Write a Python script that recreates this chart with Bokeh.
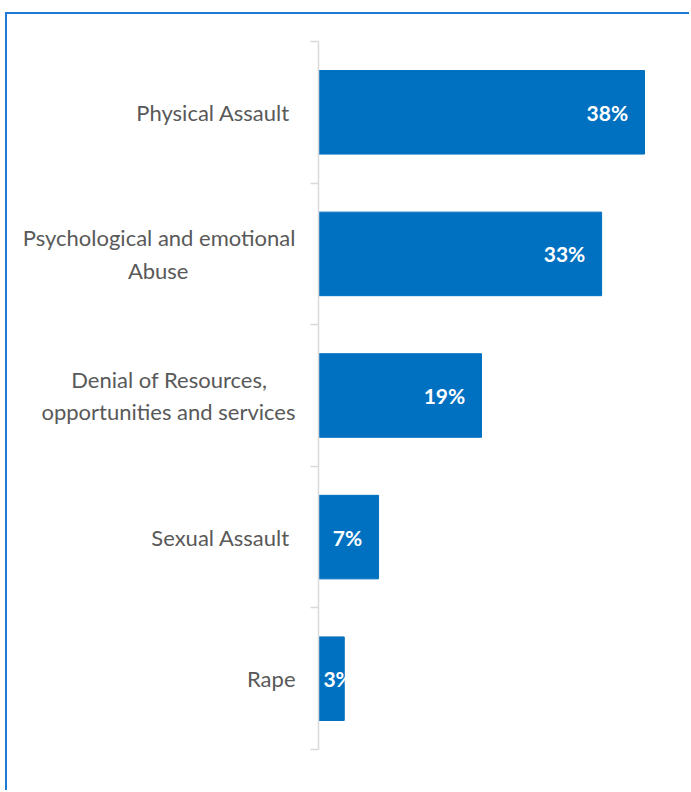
from bokeh.plotting import figure
from bokeh.models import FixedTicker, ColumnDataSource, Range1d
from bokeh.embed import file_html
from bokeh.resources import INLINE
from bokeh.core.properties import value

NB = "\u00a0"
categories = [
    "Physical Assault" + NB,
    "Psychological and emotional\nAbuse" + NB * 19,
    "Denial of Resources," + NB * 5 + "\nopportunities and services",
    "Sexual Assault" + NB,
    "Rape",
]
values = [38, 33, 19, 7, 3]
value_labels = ["38%", "33%", "19%", "7%", "3%"]

n = len(categories)
ypos = [n - i - 0.5 for i in range(n)]
# data-label anchor: inside end of bar, clamped near bar start for short bars
label_x = [max(v - 1.9, 4.0) for v in values]

src = ColumnDataSource(dict(y=ypos, v=values, lab=value_labels, lx=label_x))

p = figure(width=684, height=778, output_backend="svg", toolbar_location=None,
           x_range=Range1d(0, 43.48), y_range=Range1d(0, n),
           min_border_left=311, min_border_right=0, min_border_top=27,
           min_border_bottom=43)
p.styles = {"border-left": "2px solid #1F7AD6", "border-top": "2px solid #1F7AD6",
            "margin-top": "12px", "margin-left": "5px"}

p.hbar(y="y", left=0, right="v", height=0.59, source=src,
       fill_color="#0070C0", line_color="#0070C0")
p.text(x="lx", y="y", text="lab", source=src, text_align="right",
       text_baseline="middle", text_color="white", text_font=value("Lato"),
       text_font_style="bold", text_font_size="21px")

p.xaxis.visible = False
p.xgrid.visible = False
p.ygrid.visible = False
p.outline_line_color = None

ax = p.yaxis[0]
ax.ticker = FixedTicker(ticks=ypos, minor_ticks=list(range(n + 1)))
ax.major_label_overrides = {y: c for y, c in zip(ypos, categories)}
ax.major_tick_out = 0
ax.major_tick_in = 0
ax.minor_tick_out = 8
ax.minor_tick_in = 0
ax.minor_tick_line_color = "#D9D9D9"
ax.minor_tick_line_width = 1.5
ax.axis_line_color = "#D9D9D9"
ax.axis_line_width = 1.5
ax.major_label_standoff = 15
ax.major_label_text_font = "Lato"
ax.major_label_text_font_size = "22px"
ax.major_label_text_color = "#595959"

open("out.html", "w").write(file_html(p, INLINE))
